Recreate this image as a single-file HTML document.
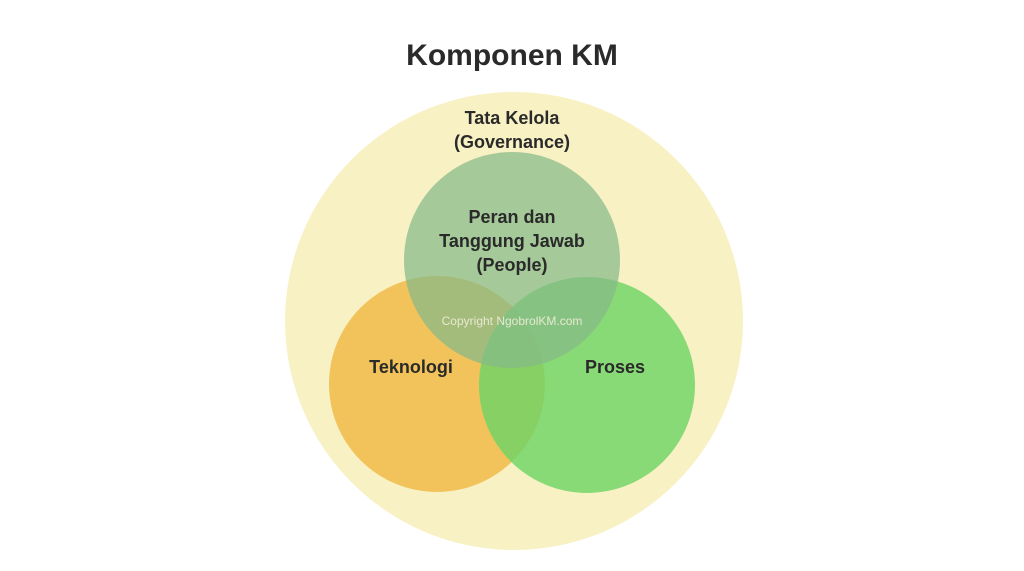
<!DOCTYPE html>
<html><head><meta charset="utf-8"><style>
html,body{margin:0;padding:0;background:#fff;}
svg{display:block;}
text{font-family:"Liberation Sans","DejaVu Sans",sans-serif;font-weight:bold;fill:#2a2a2a;text-anchor:middle;}
</style></head><body>
<svg width="1024" height="571" viewBox="0 0 1024 571">
<text x="512" y="65" font-size="30" fill="#333">Komponen KM</text>
<circle cx="514" cy="321" r="229" fill="#f8f1c4"/>
<text x="512" y="124" font-size="18">Tata Kelola</text>
<text x="512" y="148" font-size="18">(Governance)</text>
<circle cx="437" cy="384" r="108" fill="#f2c35a"/>
<circle cx="587" cy="385" r="108" fill="#6fd466" fill-opacity="0.82"/>
<circle cx="512" cy="260" r="108" fill="#85ba88" fill-opacity="0.72"/>
<text x="512" y="223" font-size="18">Peran dan</text>
<text x="512" y="247" font-size="18">Tanggung Jawab</text>
<text x="512" y="271" font-size="18">(People)</text>
<text x="411" y="373" font-size="18">Teknologi</text>
<text x="615" y="373" font-size="18">Proses</text>
<text x="512" y="325" font-size="12" style="font-weight:normal;fill:#e8e8d0">Copyright NgobrolKM.com</text>
</svg>
</body></html>
